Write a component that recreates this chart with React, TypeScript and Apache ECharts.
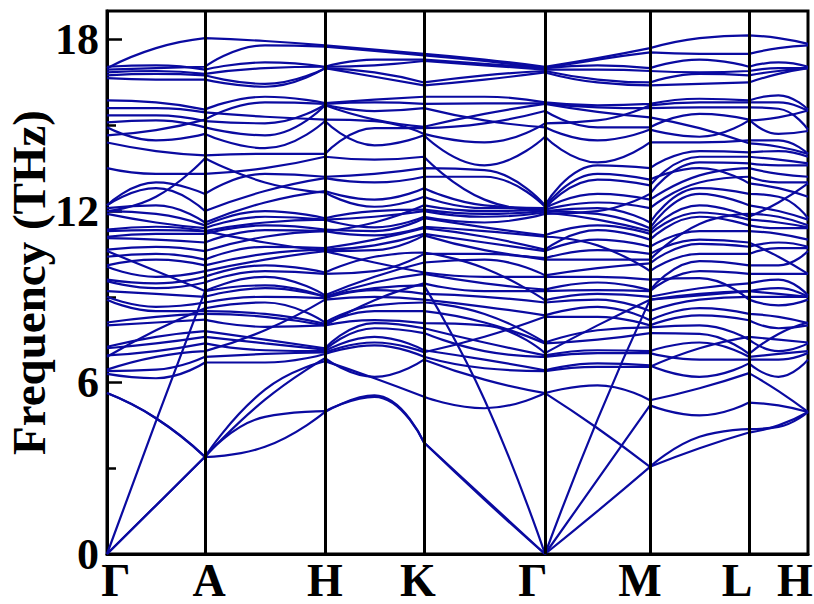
import React, { useEffect, useRef } from 'react';
import * as echarts from 'echarts';

// high-symmetry path (path distance units) and labels
const kNodes = [0, 98, 218, 317, 438, 543, 642, 701];
const kLabels = ['Γ', 'A', 'H', 'K', 'Γ', 'M', 'L', 'H'];
const yMajorTicks = [0, 6, 12, 18];
const yMinorTicks = [3, 9, 15];

// each band: values at [Γ, mid, A, mid, H, mid, K, mid, Γ, mid, M, mid, L, mid, H]
const acousticTA1 = [0, 1.7, 3.4, 3.75, 4.97, 5.55, 3.9, 1.95, 0, 1.5, 3.05, 4.1, 4.37, 4.45, 4.97];
const acousticTA2 = [0, 1.7, 3.4, 4.8, 5.0, 5.5, 3.9, 1.9, 0, 2.6, 5.2, 4.85, 5.3, 5.2, 4.97];
const acousticLA = [0, 4.65, 9.2, 9.4, 9.0, 9.3, 9.4, 5.4, 0, 4.7, 8.9, 9.1, 9.2, 9.1, 9.0];
const foldedF1 = [5.63, 4.75, 3.4, 5.4, 6.85, 6.2, 6.8, 6.1, 5.63, 5.9, 5.38, 5.8, 6.33, 5.7, 4.97];
const foldedF2 = [5.63, 4.75, 3.4, 5.75, 6.75, 6.15, 5.5, 5.1, 5.63, 4.4, 3.05, 3.7, 4.25, 4.5, 4.97];

// middle manifold: frequencies read at each sample point (ascending)
const midG0 = [6.3, 6.4, 6.45, 6.9, 6.95, 7.2, 7.25, 8.0, 8.1, 8.9, 9.0, 9.2, 9.55, 9.6, 10.05, 10.1, 10.4, 10.6, 10.65, 11.05, 11.1, 11.3, 11.35, 11.9, 12.0, 12.0, 12.1, 12.2, 12.2, 13.5];
const midGA = [6.15, 6.45, 6.9, 7.1, 7.37, 7.6, 7.83, 8.1, 8.3, 8.5, 8.65, 9.1, 9.3, 9.47, 9.7, 9.9, 10.3, 10.5, 10.75, 11.0, 11.2, 11.33, 11.45, 11.6, 11.9, 12.2, 12.5, 12.8, 13.0, 13.3];
const midA = [6.7, 6.9, 7.1, 7.37, 7.6, 7.8, 8.2, 8.4, 8.5, 8.6, 8.8, 9.0, 9.2, 9.5, 9.7, 9.9, 10.1, 10.3, 10.6, 10.9, 11.2, 11.3, 11.3, 11.4, 11.5, 11.6, 12.0, 12.6, 13.3, 13.85];
const midAH = [6.7, 7.0, 7.13, 7.37, 7.5, 7.83, 7.95, 8.3, 8.4, 8.8, 9.0, 9.3, 9.7, 9.9, 10.1, 10.3, 10.5, 10.75, 10.9, 11.1, 11.33, 11.5, 11.6, 11.8, 12.0, 12.3, 12.7, 13.0, 13.3, 13.5];
const midH1 = [7.0, 7.05, 7.1, 7.15, 7.2, 8.0, 8.0, 8.05, 8.1, 8.9, 8.95, 9.0, 9.05, 9.8, 9.85, 10.6, 10.6, 10.65, 10.7, 11.3, 11.3, 11.35, 11.7, 11.7, 11.75, 12.65, 12.7, 13.15, 13.2, 13.9];
const midHK = [7.3, 7.4, 7.6, 7.9, 8.08, 8.18, 8.5, 8.7, 8.88, 9.0, 9.23, 9.5, 9.7, 9.9, 10.2, 10.4, 10.63, 10.8, 11.0, 11.15, 11.3, 11.43, 11.6, 11.8, 12.0, 12.15, 12.4, 13.0, 13.3, 13.8];
const midK = [6.9, 7.06, 7.13, 7.73, 7.9, 8.08, 8.5, 8.8, 8.9, 9.1, 9.47, 9.8, 9.85, 10.2, 10.5, 10.55, 11.15, 11.2, 11.4, 11.45, 11.75, 11.8, 12.0, 12.05, 12.2, 12.5, 12.8, 13.2, 13.5, 13.9];
const midKG = [6.5, 6.8, 7.1, 7.4, 7.6, 8.0, 8.1, 8.4, 8.65, 9.0, 9.2, 9.47, 9.7, 10.0, 10.3, 10.5, 10.63, 10.9, 11.1, 11.3, 11.43, 11.6, 11.8, 11.9, 12.0, 12.1, 12.2, 12.4, 13.2, 13.43];
const midG1 = [6.4, 6.43, 6.9, 6.95, 7.03, 7.37, 7.4, 8.3, 8.35, 8.8, 8.88, 9.2, 9.25, 9.7, 9.75, 10.3, 10.35, 10.6, 10.65, 11.1, 11.15, 11.9, 11.95, 12.0, 12.0, 12.05, 12.1, 12.1, 12.15, 12.2];
const midGM = [6.55, 6.67, 7.03, 7.13, 7.5, 7.83, 8.0, 8.3, 8.65, 8.9, 9.1, 9.23, 9.5, 9.7, 10.0, 10.3, 10.63, 10.8, 11.0, 11.33, 11.5, 11.7, 11.9, 12.0, 12.1, 12.3, 12.6, 13.1, 13.3, 13.6];
const midM = [6.55, 6.6, 7.03, 7.1, 7.73, 7.93, 8.0, 8.18, 8.5, 8.9, 9.0, 9.2, 9.23, 9.6, 9.9, 10.17, 10.3, 10.5, 10.75, 11.0, 11.2, 11.3, 11.4, 11.6, 12.1, 12.4, 12.6, 12.9, 13.1, 13.5];
const midML = [6.2, 6.8, 7.2, 7.4, 7.7, 8.0, 8.35, 8.6, 8.9, 9.05, 9.3, 9.65, 9.9, 10.25, 10.5, 10.85, 11.0, 11.3, 11.55, 11.8, 11.95, 12.2, 12.6, 12.8, 13.0, 13.25, 13.5, 13.7, 13.9, 14.1];
const midL = [6.67, 6.8, 6.9, 7.0, 7.5, 7.6, 8.18, 8.4, 8.9, 9.0, 9.2, 9.47, 9.8, 10.1, 10.5, 10.75, 10.9, 11.3, 11.5, 11.7, 11.8, 11.9, 12.2, 12.6, 12.97, 13.2, 13.5, 13.67, 13.9, 14.05];
const midLH = [6.2, 6.8, 7.0, 7.1, 7.5, 7.7, 7.9, 8.3, 8.7, 9.0, 9.3, 9.6, 9.8, 10.1, 10.4, 10.7, 10.9, 11.2, 11.4, 11.6, 11.8, 12.0, 12.3, 12.5, 12.8, 13.0, 13.3, 13.6, 13.8, 14.1];
const midH2 = [6.8, 7.03, 7.1, 7.37, 7.4, 8.0, 8.08, 8.1, 8.9, 9.0, 9.0, 9.05, 9.8, 9.8, 10.6, 10.7, 10.75, 11.0, 11.4, 11.43, 11.5, 11.7, 11.75, 12.5, 12.97, 13.0, 13.2, 13.6, 13.67, 13.9];

// where bands of the middle manifold cross within a segment: [first band, bands spanned, +1 rising / -1 falling]
const midCrossings: number[][][] = [
  [[3, 7, 1], [12, 6, -1], [24, 6, 1]],
  [[2, 8, 1], [15, 7, -1], [25, 5, -1]],
  [[6, 5, 1], [12, 5, -1], [20, 5, 1]],
  [[1, 7, 1], [10, 6, -1], [24, 6, -1]],
  [[4, 6, 1], [14, 6, -1], [21, 6, 1]],
  [[0, 6, 1], [8, 6, -1], [16, 6, 1], [24, 5, -1]],
  [[3, 5, 1], [12, 5, -1], [20, 5, 1]],
];

// upper manifold (14–16 THz), ascending at each sample point
const upG0 = [14.4, 14.65, 14.93, 15.1, 15.35, 15.6, 15.87];
const upGA = [14.1, 14.47, 14.83, 15.17, 15.35, 15.6, 15.8];
const upA = [13.95, 14.7, 14.93, 15.15, 15.2, 15.45, 15.55];
const upAH = [14.0, 14.2, 14.65, 15.07, 15.3, 15.8, 16.0];
const upH1 = [14.0, 15.15, 15.2, 15.7, 15.72, 15.75, 15.78];
const upHK = [14.3, 14.9, 15.15, 15.2, 15.5, 15.8, 15.9];
const upK = [14.65, 14.7, 14.9, 14.95, 15.6, 15.75, 16.0];
const upKG = [13.6, 14.4, 15.07, 15.17, 15.4, 15.77, 16.0];
const upG1 = [14.6, 14.93, 15.07, 15.5, 15.75, 15.77, 15.8];
const upGM = [13.7, 14.47, 14.93, 15.17, 15.47, 15.63, 15.7];
const upM = [14.4, 14.85, 14.93, 15.28, 15.6, 15.7, 15.75];
const upML = [14.4, 14.6, 14.9, 15.4, 15.63, 15.8, 15.93];
const upL = [14.37, 14.47, 15.17, 15.2, 15.63, 15.8, 15.87];
const upLH = [14.25, 14.47, 14.7, 15.28, 15.58, 15.8, 16.05];
const upH2 = [14.0, 14.0, 14.8, 14.85, 15.5, 15.52, 15.55];
const upCrossings: number[][][] = [
  [[1, 4, 1]], [[2, 4, -1]], [[0, 3, 1]], [[1, 4, -1]], [[2, 4, 1]], [[0, 4, -1]], [[2, 4, 1]],
];

// top manifold (16.4–18.2 THz)
const top1 = [17.0, 17.7, 18.05, 17.95, 17.8, 17.65, 17.5, 17.3, 17.05, 17.35, 17.7, 18.05, 18.15, 18.05, 17.85];
const top2 = [16.95, 17.0, 17.05, 17.8, 17.75, 17.6, 17.45, 17.25, 17.0, 17.3, 17.55, 17.5, 17.5, 17.7, 17.8];
const top3 = [17.05, 17.1, 16.95, 17.2, 17.05, 17.3, 17.3, 17.15, 17.0, 17.1, 17.0, 17.3, 17.05, 17.2, 17.05];
const top4 = [16.85, 16.9, 16.8, 17.0, 17.05, 17.1, 17.25, 17.1, 16.95, 16.95, 16.9, 16.85, 16.9, 17.0, 17.0];
const top5 = [16.75, 16.8, 16.75, 16.45, 17.0, 16.85, 16.5, 16.75, 16.9, 16.6, 16.5, 16.8, 16.75, 16.9, 17.0];
const top6 = [16.65, 16.6, 16.6, 16.35, 17.0, 16.7, 16.4, 16.6, 16.85, 16.5, 16.4, 16.45, 16.5, 16.8, 17.0];

const midColumns = [midG0, midGA, midA, midAH, midH1, midHK, midK, midKG, midG1, midGM, midM, midML, midL, midLH, midH2];
const upColumns = [upG0, upGA, upA, upAH, upH1, upHK, upK, upKG, upG1, upGM, upM, upML, upL, upLH, upH2];

const FONT = "'Liberation Serif', 'Times New Roman', serif";
const BAND_COLOR = '#0a0aa0';
const labelShift = [9, 4, 0, -6, -12, -10, -12, -13];

// wiring of one segment: which mid / right value each piece (indexed by left value) goes to
function wiring(n: number, crossings: number[][]) {
  const right: number[] = [];
  const mid: number[] = [];
  for (let i = 0; i < n; i++) { right.push(i); mid.push(i); }
  crossings.forEach(([a, len, dir]) => {
    const idx: number[] = [];
    for (let i = 0; i < len; i++) idx.push(a + i);
    if (dir > 0) {
      const m = Math.floor((len - 1) / 2);
      right[a] = a + len - 1;
      for (let i = 1; i < len; i++) right[a + i] = a + i - 1;
      const rest = idx.filter((v) => v !== a + m);
      mid[a] = a + m;
      for (let i = 1; i < len; i++) mid[a + i] = rest[i - 1];
    } else {
      const m = Math.ceil((len - 1) / 2);
      right[a + len - 1] = a;
      for (let i = 0; i < len - 1; i++) right[a + i] = a + i + 1;
      const rest = idx.filter((v) => v !== a + m);
      mid[a + len - 1] = a + m;
      for (let i = 0; i < len - 1; i++) mid[a + i] = rest[i];
    }
  });
  return { right, mid };
}

function manifoldPieces(cols: number[][], crossings: number[][][]): any[][] {
  const n = cols[0].length;
  const out: any[][] = [];
  for (let j = 0; j < n; j++) out.push([]);
  for (let s = 0; s < kNodes.length - 1; s++) {
    const { right, mid } = wiring(n, crossings[s] || []);
    const x0 = kNodes[s];
    const x1 = kNodes[s + 1];
    for (let j = 0; j < n; j++) {
      out[j].push([x0, cols[2 * s][j]], [(x0 + x1) / 2, cols[2 * s + 1][mid[j]]], [x1, cols[2 * s + 2][right[j]]]);
      if (s < kNodes.length - 2) out[j].push([x1, '-']);
    }
  }
  return out;
}

function bandData(vals: number[]) {
  const out: any[] = [];
  for (let s = 0; s < kNodes.length - 1; s++) {
    const x0 = kNodes[s];
    const x1 = kNodes[s + 1];
    out.push([x0, vals[2 * s]], [(x0 + x1) / 2, vals[2 * s + 1]], [x1, vals[2 * s + 2]]);
    if (s < kNodes.length - 2) out.push([x1, '-']);
  }
  return out;
}

export default function App() {
  const ref = useRef<HTMLDivElement>(null);
  useEffect(() => {
    if (!ref.current) return;
    const chart = echarts.init(ref.current, undefined, { renderer: 'svg' });
    const lines: any[][] = [
      ...[acousticTA1, acousticTA2, acousticLA, foldedF1, foldedF2].map(bandData),
      ...manifoldPieces(midColumns, midCrossings),
      ...manifoldPieces(upColumns, upCrossings),
      ...[top1, top2, top3, top4, top5, top6].map(bandData),
    ];
    const series: any[] = lines.map((d) => ({
      type: 'line',
      data: d,
      smooth: 0.5,
      symbol: 'none',
      showSymbol: false,
      connectNulls: false,
      silent: true,
      lineStyle: { color: BAND_COLOR, width: 2.2 },
      z: 2,
    }));
    series.push({
      type: 'line',
      data: [],
      z: 5,
      markLine: {
        silent: true,
        symbol: ['none', 'none'],
        label: { show: false },
        lineStyle: { color: '#000', width: 3, type: 'solid' },
        data: kNodes.slice(1, -1).map((v) => ({ xAxis: v })),
      },
    });
    const rich: any = {};
    kLabels.forEach((_, i) => {
      const s = labelShift[i];
      rich['s' + i] = {
        fontFamily: FONT,
        fontWeight: 'bold',
        fontSize: 46,
        color: '#000',
        padding: s >= 0 ? [0, 0, 0, 2 * s] : [0, -2 * s, 0, 0],
      };
    });
    chart.setOption({
      animation: false,
      backgroundColor: '#fff',
      grid: {
        left: 107, right: 6, top: 11, bottom: 50,
        containLabel: false,
        outerBoundsMode: 'none',
        show: true, borderColor: '#000', borderWidth: 3, backgroundColor: 'transparent',
      },
      xAxis: {
        type: 'value',
        min: 0,
        max: kNodes[kNodes.length - 1],
        axisLine: { show: true, lineStyle: { color: '#000', width: 3 } },
        axisTick: { show: false },
        splitLine: { show: false },
        axisLabel: {
          customValues: kNodes,
          showMinLabel: true,
          showMaxLabel: true,
          hideOverlap: false,
          margin: 3,
          formatter: (v: number) => {
            const i = kNodes.indexOf(v);
            return i >= 0 ? '{s' + i + '|' + kLabels[i] + '}' : '';
          },
          rich,
        },
      },
      yAxis: [
        {
          type: 'value',
          min: 0,
          max: 19,
          interval: 3,
          position: 'left',
          name: 'Frequency (THz)',
          nameLocation: 'middle',
          nameRotate: 90,
          nameGap: 55,
          nameMoveOverlap: false,
          nameTextStyle: { fontFamily: FONT, fontWeight: 'bold', fontSize: 47, color: '#000' },
          axisLine: { show: true, lineStyle: { color: '#000', width: 3 } },
          axisTick: { show: true, inside: true, length: 15, customValues: yMajorTicks, lineStyle: { color: '#000', width: 2.5 } },
          axisLabel: { customValues: yMajorTicks, margin: 8, fontFamily: FONT, fontWeight: 'bold', fontSize: 44, color: '#000' },
          splitLine: { show: false },
        },
        {
          type: 'value',
          min: 0,
          max: 19,
          interval: 3,
          position: 'left',
          axisLine: { show: false },
          axisTick: { show: true, inside: true, length: 9, customValues: yMinorTicks, lineStyle: { color: '#000', width: 2.5 } },
          axisLabel: { show: false },
          splitLine: { show: false },
        },
      ],
      series,
    });
    return () => chart.dispose();
  }, []);
  return <div ref={ref} style={{ position: 'absolute', left: 0, top: 0, width: 814, height: 604 }} />;
}
